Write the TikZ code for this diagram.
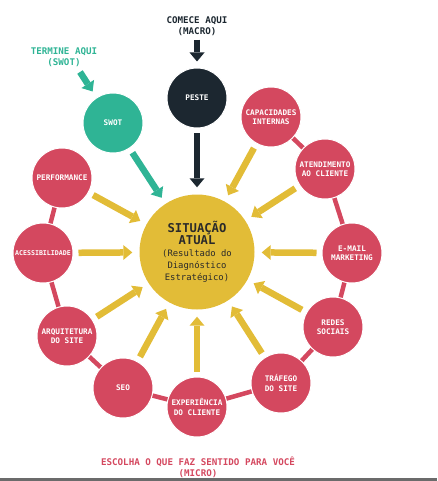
\documentclass[tikz,border=0pt]{standalone}
\usepackage{fontspec}
\setmonofont{DejaVu Sans Mono}
\usetikzlibrary{arrows.meta}
\definecolor{cred}{HTML}{D4485F}
\definecolor{cteal}{HTML}{2FB495}
\definecolor{cdark}{HTML}{1C2730}
\definecolor{cyellow}{HTML}{E2BC37}
\definecolor{cgraybar}{HTML}{6B6B6B}
\definecolor{ctext}{HTML}{2A2A2A}
\newcommand{\bigsit}{\fontsize{12.2}{14}\selectfont\bfseries}
\newcommand{\smallsit}{\fontsize{8.9}{11.5}\selectfont\mdseries}
\begin{document}
\begin{tikzpicture}[x=1pt,y=-1pt,
  redc/.style={circle, fill=cred, draw=white, line width=1pt, minimum size=60pt, inner sep=0pt,
    text=white, font=\ttfamily\bfseries\fontsize{7.7}{9.5}\selectfont, align=center},
  tealc/.style={redc, fill=cteal},
  darkc/.style={redc, fill=cdark},
  centerc/.style={circle, fill=cyellow, minimum size=115pt, inner sep=0pt, text=ctext, align=center,
    font=\ttfamily},
  link/.style={draw=cred, line width=4.5pt},
  yarr/.style={draw=cyellow, line width=6.5pt, -{Triangle[length=9pt,width=15pt,line width=0pt]},
    shorten <=5pt, shorten >=7pt},
  darr/.style={yarr, draw=cdark},
  tarr/.style={yarr, draw=cteal},
  caption/.style={font=\ttfamily\bfseries\fontsize{9.2}{11}\selectfont, align=center, inner sep=1pt}
]
\useasboundingbox (0,0) rectangle (437,481);
\fill[cgraybar] (0,478) rectangle (437,481);

% red connector lines (drawn first)
\coordinate (Pperf) at (62,178);
\coordinate (Paces) at (43,253);
\coordinate (Parq) at (67,336);
\coordinate (Pseo) at (123,388);
\coordinate (Pexp) at (197,407);
\coordinate (Ptraf) at (281,383);
\coordinate (Predes) at (333,327);
\coordinate (Pemail) at (352,253);
\coordinate (Paten) at (325,169);
\coordinate (Pcap) at (271,117);
\draw[link] (Pperf) -- (Paces) -- (Parq) -- (Pseo) -- (Pexp) -- (Ptraf) -- (Predes) -- (Pemail) -- (Paten) -- (Pcap);

% center
\node[centerc] (center) at (197,252) {\bigsit SITUAÇÃO\\\bigsit ATUAL\\\smallsit (Resultado do\\\smallsit Diagnóstico\\\smallsit Estratégico)};

\node[darkc] (peste) at (197,98) {PESTE};
\node[tealc] (swot) at (113,123) {SWOT};
\node[redc] (cap) at (Pcap) {CAPACIDADES\\INTERNAS};
\node[redc] (aten) at (Paten) {ATENDIMENTO\\AO CLIENTE};
\node[redc] (email) at (Pemail) {E-MAIL\\MARKETING};
\node[redc] (redes) at (Predes) {REDES\\SOCIAIS};
\node[redc] (traf) at (Ptraf) {TRÁFEGO\\DO SITE};
\node[redc] (exp) at (Pexp) {EXPERIÊNCIA\\DO CLIENTE};
\node[redc] (seo) at (Pseo) {SEO};
\node[redc] (arq) at (Parq) {ARQUITETURA\\DO SITE};
\node[redc, font=\ttfamily\bfseries\fontsize{6.6}{8}\selectfont] (aces) at (Paces) {ACESSIBILIDADE};
\node[redc] (perf) at (Pperf) {PERFORMANCE};

% captions
\node[caption, text=cdark] (comece) at (197,26) {COMECE AQUI\\(MACRO)};
\node[caption, text=cteal] (termine) at (64,57) {TERMINE AQUI\\(SWOT)};
\node[caption, text=cred] (escolha) at (198,467.5) {ESCOLHA O QUE FAZ SENTIDO PARA VOCÊ\\(MICRO)};
\coordinate (termineend) at (80,72);

% arrows
\draw[darr, shorten <=3pt, shorten >=6pt] (comece) -- (peste);
\draw[tarr, shorten <=0pt] (termineend) -- (swot);
\draw[darr] (peste) -- (center);
\draw[tarr] (swot) -- (center);
\foreach \n in {cap,aten,email,redes,traf,exp,seo,arq,aces,perf}
  \draw[yarr] (\n) -- (center);
\end{tikzpicture}
\end{document}
